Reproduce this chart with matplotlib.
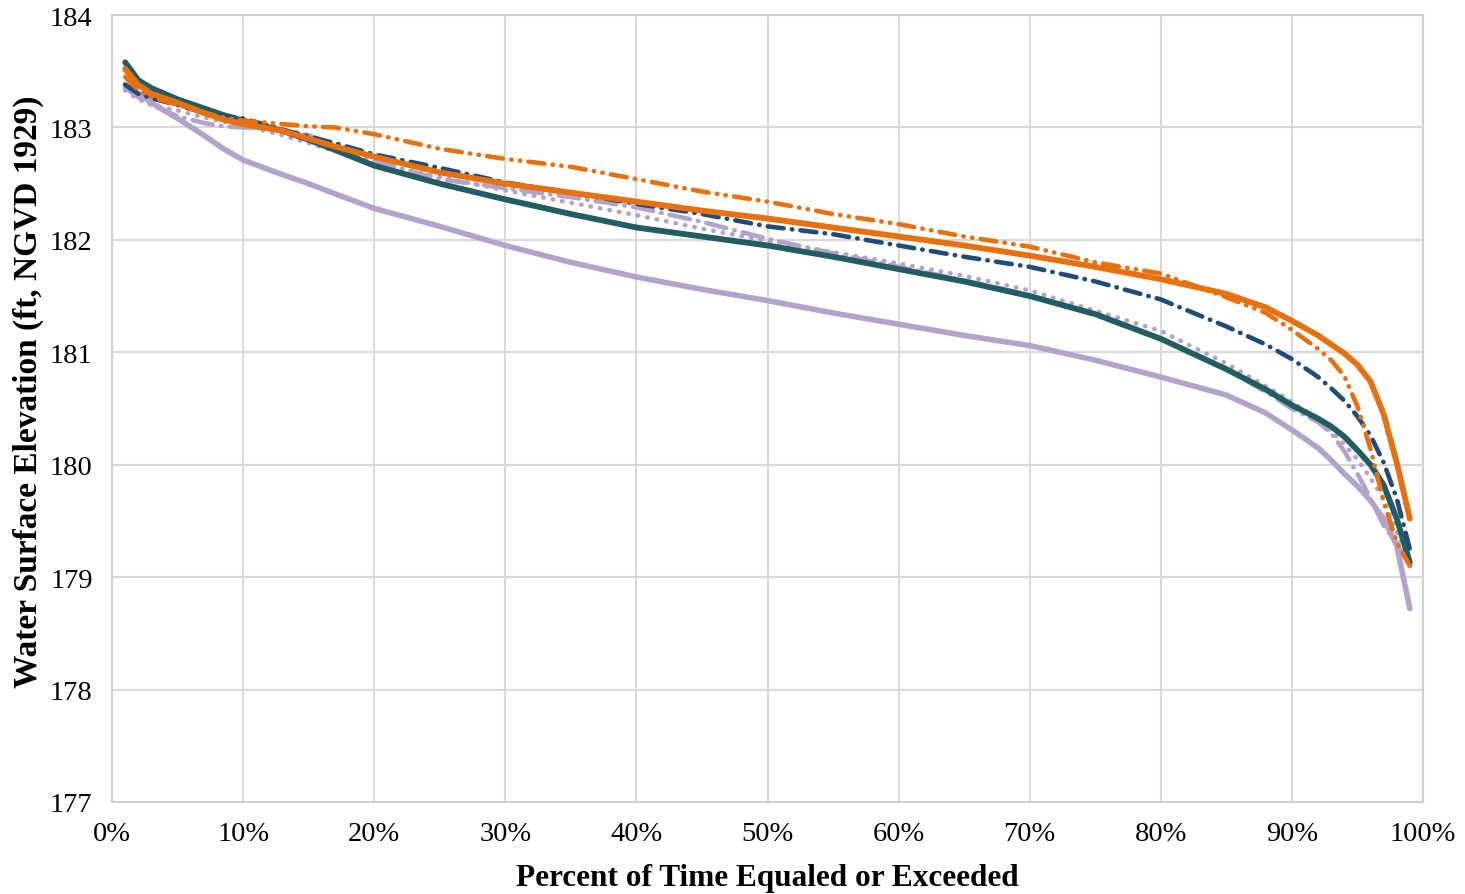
import matplotlib.pyplot as plt
from matplotlib.ticker import FuncFormatter, MultipleLocator

# exceedance percent and water surface elevation (ft) for each run
pct = [1, 2, 3, 5, 7, 8.5, 10, 13, 15, 17, 20, 25, 30, 35, 40, 45, 50, 55, 60, 65, 70,
       75, 80, 85, 88, 90, 92, 93, 94, 95, 96, 97, 98, 99]

teal_solid = [183.58, 183.42, 183.35, 183.25, 183.17, 183.11, 183.06, 182.97, 182.89, 182.80, 182.66,
              182.50, 182.36, 182.23, 182.11, 182.03, 181.95, 181.85, 181.74, 181.63, 181.50,
              181.34, 181.12, 180.85, 180.67, 180.53, 180.41, 180.34, 180.25, 180.13, 180.00,
              179.82, 179.52, 179.13]
orange_solid = [183.52, 183.38, 183.30, 183.22, 183.13, 183.07, 183.03, 182.97, 182.90, 182.83, 182.74,
                182.60, 182.50, 182.42, 182.34, 182.26, 182.19, 182.11, 182.03, 181.95, 181.86,
                181.76, 181.65, 181.52, 181.40, 181.28, 181.15, 181.07, 180.99, 180.89, 180.74,
                180.45, 180.02, 179.52]
orange_dashdotdot = [183.45, 183.33, 183.27, 183.20, 183.13, 183.09, 183.06, 183.03, 183.01, 183.00, 182.94,
                     182.81, 182.72, 182.65, 182.54, 182.43, 182.34, 182.23, 182.14, 182.03, 181.94,
                     181.80, 181.70, 181.49, 181.35, 181.20, 181.03, 180.93, 180.79, 180.52, 180.14,
                     179.67, 179.31, 179.10]
navy_dashdot = [183.38, 183.30, 183.26, 183.20, 183.13, 183.10, 183.08, 182.98, 182.92, 182.86, 182.76,
                182.64, 182.51, 182.42, 182.32, 182.23, 182.12, 182.05, 181.95, 181.85, 181.76,
                181.63, 181.47, 181.23, 181.07, 180.94, 180.78, 180.68, 180.57, 180.43, 180.26,
                180.02, 179.70, 179.25]
lavender_solid = [183.38, 183.30, 183.22, 183.08, 182.93, 182.81, 182.71, 182.58, 182.50, 182.41, 182.28,
                  182.12, 181.95, 181.80, 181.67, 181.56, 181.46, 181.35, 181.25, 181.15, 181.06,
                  180.93, 180.78, 180.62, 180.46, 180.31, 180.15, 180.04, 179.92, 179.81, 179.68,
                  179.52, 179.28, 178.72]
lavender_dotted = [183.33, 183.25, 183.20, 183.15, 183.09, 183.05, 183.02, 182.93, 182.86, 182.79, 182.68,
                   182.56, 182.44, 182.33, 182.22, 182.10, 181.99, 181.89, 181.79, 181.68, 181.55,
                   181.37, 181.19, 180.90, 180.70, 180.56, 180.40, 180.30, 180.18, 180.05, 179.88,
                   179.70, 179.40, 179.15]
lavender_dashdot = [183.35, 183.27, 183.20, 183.10, 183.04, 183.01, 183.00, 182.98, 182.93, 182.84, 182.70,
                    182.54, 182.46, 182.38, 182.29, 182.16, 182.01, 181.88, 181.76, 181.64, 181.51,
                    181.33, 181.12, 180.85, 180.65, 180.50, 180.38, 180.28, 180.12, 179.92, 179.70,
                    179.46, 179.30, 179.10]

plt.rcParams['font.family'] = ['Liberation Serif', 'DejaVu Serif']

fig = plt.figure(figsize=(14.65, 8.95), dpi=100)
ax = fig.add_axes([0.0765, 0.1028, 0.8948, 0.8793])

teal = '#215E62'
orange = '#E8710D'
navy = '#1F4C7A'
lavender = '#B3A3CB'

ax.plot(pct, lavender_solid, color=lavender, lw=4.0, solid_capstyle='round', solid_joinstyle='round')
ax.plot(pct, lavender_dotted, color=lavender, lw=3.3, ls=(0, (0.1, 2.0)), dash_capstyle='round')
ax.plot(pct, lavender_dashdot, color=lavender, lw=3.3, ls=(0, (4.5, 1.8, 0.1, 1.8)), dash_capstyle='round')
ax.plot(pct, teal_solid, color=teal, lw=4.2, solid_capstyle='round', solid_joinstyle='round')
ax.plot(pct, navy_dashdot, color=navy, lw=3.3, ls=(0, (3.5, 1.8, 0.1, 1.8)), dash_capstyle='round')
ax.plot(pct, orange_dashdotdot, color=orange, lw=3.3, ls=(0, (3.5, 1.8, 0.1, 1.8, 0.1, 1.8)),
        dash_capstyle='round')
ax.plot(pct, orange_solid, color=orange, lw=4.2, solid_capstyle='round', solid_joinstyle='round')

ax.set_xlim(0, 100)
ax.set_ylim(177, 184)
ax.xaxis.set_major_locator(MultipleLocator(10))
ax.yaxis.set_major_locator(MultipleLocator(1))
ax.xaxis.set_major_formatter(FuncFormatter(lambda v, _: f'{v:.0f}%'))
ax.grid(True, color='#D9D9D9', lw=1.5)
ax.set_axisbelow(True)
for s in ax.spines.values():
    s.set_color('#D0D0D0')
    s.set_linewidth(1.5)
ax.tick_params(length=0, labelsize=20.5)
ax.tick_params(axis='x', pad=14)
ax.tick_params(axis='y', pad=14)

ax.set_xlabel('Percent of Time Equaled or Exceeded', fontsize=22.5, fontweight='bold', labelpad=12)
ax.set_ylabel('Water Surface Elevation (ft, NGVD 1929)', fontsize=24, fontweight='bold')
ax.yaxis.set_label_coords(-0.052, 0.522)

fig.savefig('out.png', dpi=100)
